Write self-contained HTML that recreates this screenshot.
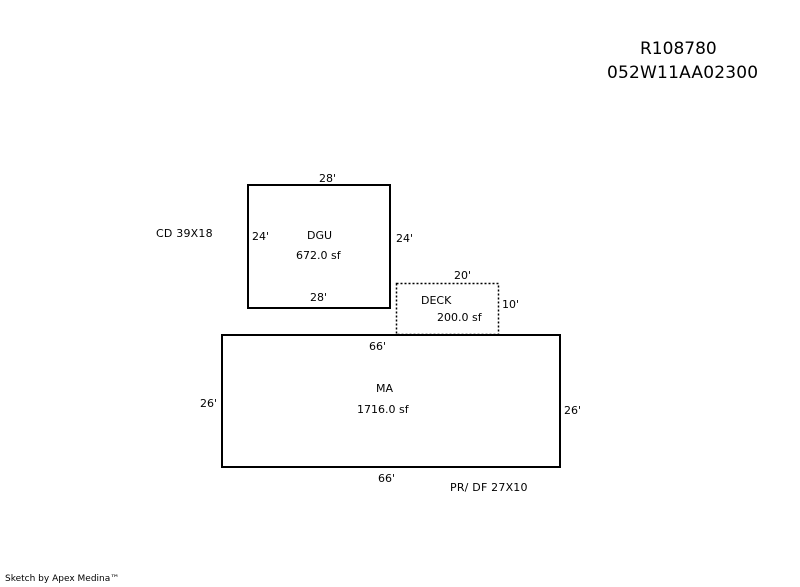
<!DOCTYPE html>
<html><head><style>
body{margin:0;background:#fff;width:800px;height:587px;overflow:hidden;position:relative;font-family:"DejaVu Sans","Liberation Sans",sans-serif;font-size:11px;color:#000}
.t{position:absolute;white-space:nowrap;line-height:1}
</style></head><body>
<svg width="800" height="587" style="position:absolute;left:0;top:0">
<rect x="248" y="185" width="142" height="123" fill="none" stroke="#000" stroke-width="2"/>
<rect x="396.5" y="283.5" width="102" height="51" fill="none" stroke="#000" stroke-width="1.5" stroke-dasharray="2,2"/>
<rect x="222" y="335" width="338" height="132" fill="none" stroke="#000" stroke-width="2"/>
</svg>
<div class="t" style="left:640px;top:41px;font-size:17px">R108780</div>
<div class="t" style="left:607px;top:65px;font-size:17px;letter-spacing:0.2px">052W11AA02300</div>
<div class="t" style="left:319px;top:173px">28'</div>
<div class="t" style="left:156px;top:228px;letter-spacing:0.2px">CD 39X18</div>
<div class="t" style="left:252px;top:231px">24'</div>
<div class="t" style="left:307px;top:230px">DGU</div>
<div class="t" style="left:396px;top:233px">24'</div>
<div class="t" style="left:296px;top:250px">672.0 sf</div>
<div class="t" style="left:454px;top:270px">20'</div>
<div class="t" style="left:310px;top:292px">28'</div>
<div class="t" style="left:421px;top:295px">DECK</div>
<div class="t" style="left:502px;top:299px">10'</div>
<div class="t" style="left:437px;top:312px">200.0 sf</div>
<div class="t" style="left:369px;top:341px">66'</div>
<div class="t" style="left:376px;top:383px">MA</div>
<div class="t" style="left:200px;top:398px">26'</div>
<div class="t" style="left:357px;top:404px">1716.0 sf</div>
<div class="t" style="left:564px;top:405px">26'</div>
<div class="t" style="left:378px;top:473px">66'</div>
<div class="t" style="left:450px;top:482px;letter-spacing:0.2px">PR/ DF 27X10</div>
<div class="t" style="left:5px;top:575px;font-size:9px">Sketch by Apex Medina™</div>
</body></html>
